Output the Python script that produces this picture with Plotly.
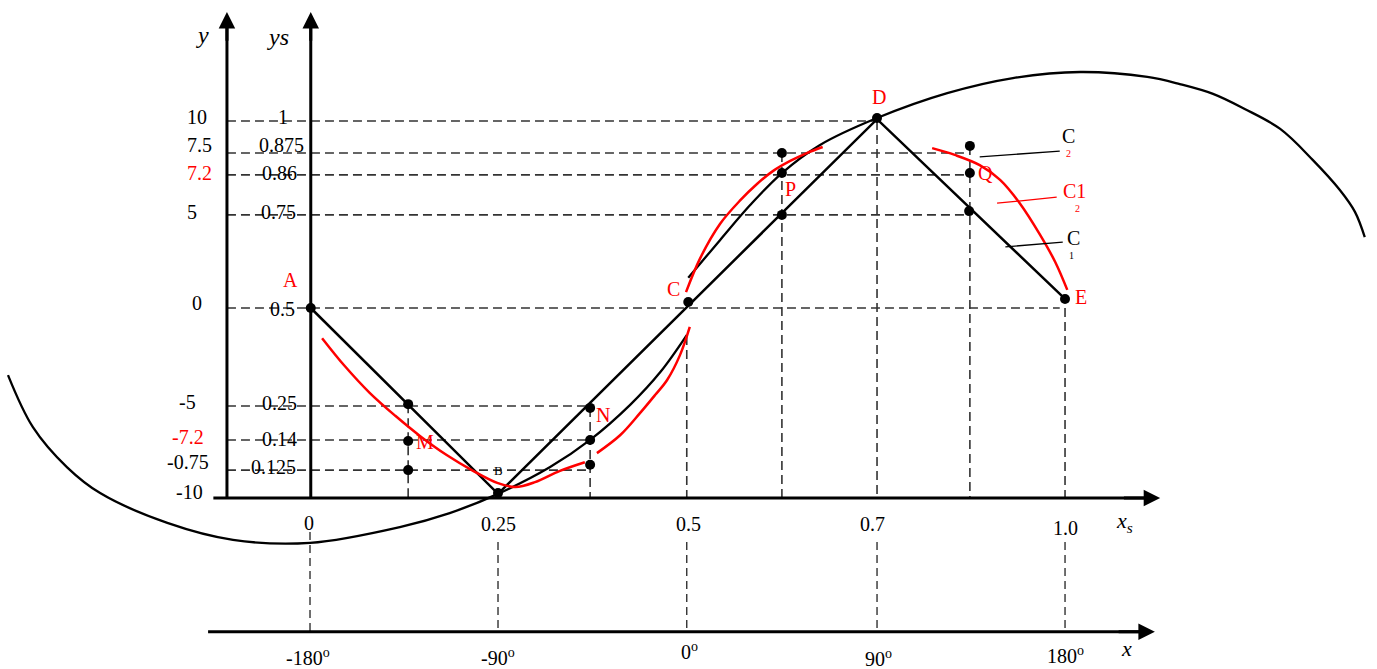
import plotly.graph_objects as go

# ---------------- data (diagram units: horizontal = xs, vertical = ys as drawn) ----------------
# axis geometry
y_axis_x = -0.110
ys_axis_x = 0.001
axis_top = 1.289
xs_axis_y = 0.0
xs_axis_span = [-0.128, 1.126]
x_axis_y = -0.355
x_axis_span = [-0.135, 1.119]

# dashed horizontal levels (ys as drawn) and where they stop
level_y = [1.0, 0.915, 0.857, 0.751, 0.504, 0.244, 0.154, 0.074]
level_xend = [0.751, 0.874, 0.874, 0.873, 0.993, 0.371, 0.371, 0.371]

# dashed verticals above the xs axis
vert_x = [0.130, 0.371, 0.499, 0.625, 0.751, 0.874, 1.0]
vert_ytop = [0.249, 0.239, 0.430, 0.915, 1.0, 0.934, 0.504]

# dashed verticals between xs axis and x axis
drop_x = [0.0, 0.249, 0.499, 0.751, 1.0]
drop_ytop = [-0.090, -0.117, -0.117, -0.117, -0.117]

# triangle wave A-B-D-E
tri_x = [0.001, 0.249, 0.751, 1.0]
tri_y = [0.504, 0.011, 1.005, 0.528]

# big black curve (two branches, broken at C)
big_left_x = [-0.400, -0.367, -0.322, -0.278, -0.189, -0.102, 0.0, 0.119, 0.185, 0.249,
              0.318, 0.371, 0.424, 0.464, 0.499]
big_left_y = [0.326, 0.188, 0.082, 0.013, -0.066, -0.111, -0.119, -0.077, -0.040, 0.011,
              0.082, 0.154, 0.247, 0.334, 0.432]
big_right_x = [0.501, 0.543, 0.583, 0.625, 0.675, 0.751, 0.844, 0.931, 1.020, 1.109,
               1.152, 1.196, 1.238, 1.285, 1.328, 1.364, 1.384, 1.397]
big_right_y = [0.584, 0.684, 0.777, 0.862, 0.936, 1.008, 1.074, 1.114, 1.130, 1.117,
               1.098, 1.072, 1.032, 0.979, 0.897, 0.817, 0.759, 0.692]

# red curves
red1_x = [0.016, 0.046, 0.079, 0.113, 0.146, 0.181, 0.216, 0.248, 0.272, 0.298, 0.331, 0.364]
red1_y = [0.424, 0.350, 0.279, 0.218, 0.164, 0.114, 0.072, 0.040, 0.029, 0.042, 0.072, 0.095]
red2_x = [0.380, 0.411, 0.437, 0.457, 0.473, 0.490, 0.503]
red2_y = [0.119, 0.167, 0.225, 0.273, 0.313, 0.379, 0.454]
red3_x = [0.498, 0.517, 0.543, 0.570, 0.592, 0.613, 0.636, 0.658, 0.679]
red3_y = [0.546, 0.637, 0.727, 0.790, 0.833, 0.867, 0.894, 0.915, 0.931]
red4_x = [0.824, 0.854, 0.887, 0.914, 0.940, 0.967, 0.987, 1.003]
red4_y = [0.928, 0.910, 0.883, 0.844, 0.782, 0.698, 0.626, 0.552]

# black dots
dot_x = [0.001, 0.130, 0.130, 0.130, 0.249, 0.371, 0.371, 0.371, 0.501,
         0.625, 0.625, 0.625, 0.751, 0.874, 0.874, 0.873, 1.0]
dot_y = [0.504, 0.249, 0.151, 0.074, 0.013, 0.239, 0.154, 0.088, 0.520,
         0.915, 0.862, 0.751, 1.008, 0.934, 0.862, 0.761, 0.528]

# leader lines for C labels
lead_black_x = [[0.887, 0.993], [0.921, 0.997]]
lead_black_y = [[0.905, 0.920], [0.666, 0.679]]
lead_red_x = [0.910, 0.989]
lead_red_y = [0.782, 0.798]

# left (y) tick labels
y_labels = ["10", "7.5", "7.2", "5", "0", "-5", "-7.2", "-0.75", "-10"]
y_label_colors = ["black", "black", "red", "black", "black", "black", "red", "black", "black"]
y_label_x = [-0.150, -0.146, -0.147, -0.156, -0.150, -0.162, -0.161, -0.161, -0.159]
y_label_y = [1.011, 0.936, 0.862, 0.759, 0.517, 0.254, 0.162, 0.095, 0.016]

# ys tick labels
ys_labels = ["1", "0.875", "0.86", "0.75", "0.5", "0.25", "0.14", "0.125"]
ys_label_x = [-0.036, -0.038, -0.040, -0.042, -0.037, -0.041, -0.041, -0.048]
ys_label_y = [1.011, 0.936, 0.862, 0.759, 0.501, 0.252, 0.156, 0.082]

# xs tick labels
xs_labels = ["0", "0.25", "0.5", "0.7", "1.0"]
xs_label_x = [-0.001, 0.249, 0.501, 0.745, 1.0]
xs_label_y = [-0.066, -0.069, -0.069, -0.069, -0.079]

# x (degree) tick labels
x_labels = ["-180<sup>o</sup>", "-90<sup>o</sup>", "0<sup>o</sup>", "90<sup>o</sup>", "180<sup>o</sup>"]
x_label_x = [-0.003, 0.249, 0.502, 0.753, 1.001]
x_label_y = [-0.422, -0.422, -0.406, -0.424, -0.416]

# point names
pt_names = ["A", "C", "P", "D", "Q", "E", "M", "N"]
pt_name_x = [-0.026, 0.481, 0.637, 0.754, 0.894, 1.021, 0.152, 0.388]
pt_name_y = [0.578, 0.554, 0.820, 1.064, 0.862, 0.533, 0.149, 0.220]

# curve-name labels at the right (main text and its small subscript)
c_names = ["C", "C1", "C"]
c_subs = ["2", "2", "1"]
c_colors = ["black", "red", "black"]
c_sub_colors = ["red", "red", "black"]
c_x = [1.004, 1.013, 1.011]
c_y = [0.960, 0.814, 0.690]
c_sub_x = [1.004, 1.016, 1.009]

FONT = "Liberation Serif"
DASH = "9px,5px"

fig = go.Figure()


def add_line(xs, ys, color="black", width=2.5, dash=None, shape="linear"):
    line = dict(color=color, width=width, dash=dash, shape=shape)
    if shape == "spline":
        line["smoothing"] = 1.0
    fig.add_trace(go.Scatter(x=xs, y=ys, mode="lines", line=line,
                             hoverinfo="skip", showlegend=False))


# dashed helper lines
hx, hy = [], []
for yv, xe in zip(level_y, level_xend):
    hx += [y_axis_x, xe, None]
    hy += [yv, yv, None]
add_line(hx, hy, color="#333333", width=1.6, dash=DASH)

vx, vy = [], []
for xv, yt in zip(vert_x, vert_ytop):
    vx += [xv, xv, None]
    vy += [yt, xs_axis_y, None]
add_line(vx, vy, color="#333333", width=1.6, dash=DASH)

dx, dy = [], []
for xv, yt in zip(drop_x, drop_ytop):
    dx += [xv, xv, None]
    dy += [yt, x_axis_y, None]
add_line(dx, dy, color="#222222", width=1.3, dash="8px,5px")

# curves
add_line(big_left_x, big_left_y, width=2.3, shape="spline")
add_line(big_right_x, big_right_y, width=2.3, shape="spline")
add_line(tri_x, tri_y, width=2.5)
for rx, ry in [(red1_x, red1_y), (red2_x, red2_y), (red3_x, red3_y), (red4_x, red4_y)]:
    add_line(rx, ry, color="red", width=2.5, shape="spline")

# leader lines
for lx, ly in zip(lead_black_x, lead_black_y):
    add_line(lx, ly, width=1.3)
add_line(lead_red_x, lead_red_y, color="red", width=1.3)

# axes lines (drawn, arrow heads via annotations)
add_line([y_axis_x, y_axis_x], [xs_axis_y, axis_top - 0.03], width=3)
add_line([ys_axis_x, ys_axis_x], [xs_axis_y, axis_top - 0.03], width=3)
add_line([xs_axis_span[0], xs_axis_span[1] - 0.015], [xs_axis_y, xs_axis_y], width=3)
add_line([x_axis_span[0], x_axis_span[1] - 0.015], [x_axis_y, x_axis_y], width=3)

# dots
fig.add_trace(go.Scatter(x=dot_x, y=dot_y, mode="markers",
                         marker=dict(color="black", size=10),
                         hoverinfo="skip", showlegend=False))

ann = []
# arrow heads
for (tx, ty, sx, sy) in [(y_axis_x, axis_top, y_axis_x, axis_top - 0.08),
                         (ys_axis_x, axis_top, ys_axis_x, axis_top - 0.08),
                         (xs_axis_span[1], xs_axis_y, xs_axis_span[1] - 0.05, xs_axis_y),
                         (x_axis_span[1], x_axis_y, x_axis_span[1] - 0.05, x_axis_y)]:
    ann.append(dict(x=tx, y=ty, ax=sx, ay=sy, xref="x", yref="y", axref="x", ayref="y",
                    text="", showarrow=True, arrowhead=2, arrowsize=1.1, arrowwidth=3,
                    arrowcolor="black", standoff=0, startstandoff=0))


def txt(x, y, s, size=20, color="black", italic=False):
    ann.append(dict(x=x, y=y, xref="x", yref="y", text=s, showarrow=False,
                    xanchor="center", yanchor="middle",
                    font=dict(family=FONT, size=size, color=color,
                              style="italic" if italic else "normal")))


for s, c, x, y in zip(y_labels, y_label_colors, y_label_x, y_label_y):
    txt(x, y, s, color=c)
for s, x, y in zip(ys_labels, ys_label_x, ys_label_y):
    txt(x, y, s)
for s, x, y in zip(xs_labels, xs_label_x, xs_label_y):
    txt(x, y, s)
for s, x, y in zip(x_labels, x_label_x, x_label_y):
    txt(x, y, s)
for s, x, y in zip(pt_names, pt_name_x, pt_name_y):
    txt(x, y, s, color="red")
txt(0.249, 0.074, "B", size=13)

# axis names
txt(-0.143, 1.228, "y", size=24, italic=True)
txt(-0.042, 1.223, "ys", size=24, italic=True)
txt(1.079, -0.064, "x<sub>s</sub>", size=22, italic=True)
txt(1.082, -0.398, "x", size=22, italic=True)

# C labels with small subscripts below
for s, sub, c, sc, x, y, sx in zip(c_names, c_subs, c_colors, c_sub_colors, c_x, c_y, c_sub_x):
    txt(x, y, s, size=20, color=c)
    txt(sx, y - 0.046, sub, size=10, color=sc)

fig.update_layout(
    width=1377, height=669, margin=dict(l=0, r=0, t=0, b=0),
    paper_bgcolor="white", plot_bgcolor="white",
    xaxis=dict(range=[-0.4106, 1.4132], visible=False, fixedrange=True),
    yaxis=dict(range=[-0.4536, 1.3210], visible=False, fixedrange=True),
    annotations=ann, showlegend=False, hovermode=False,
)

fig.write_html("out.html", config={"displayModeBar": False},
               post_script="document.body.style.margin='0px';document.body.style.overflow='hidden';")
